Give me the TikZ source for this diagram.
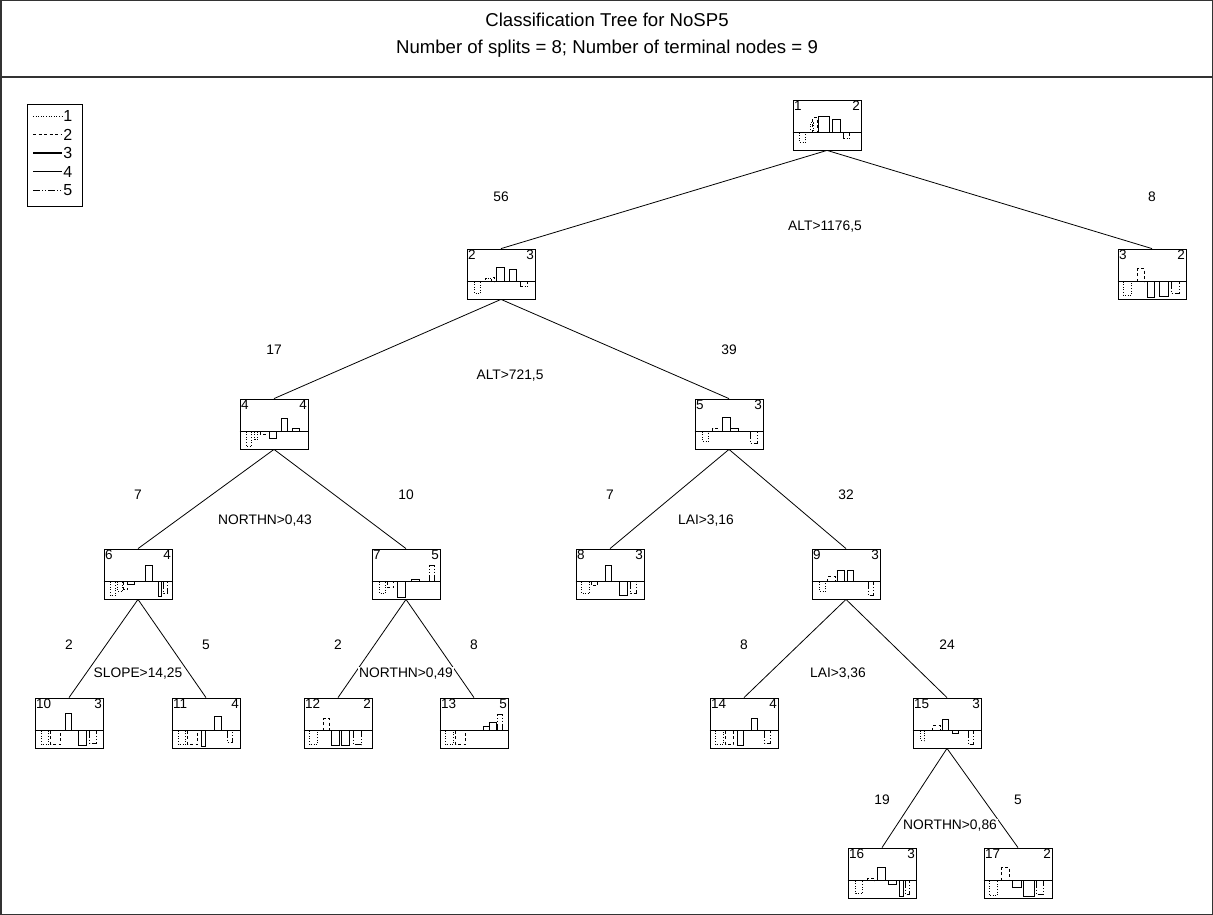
\documentclass[tikz,border=0pt]{standalone}
\usepackage{fontspec}
\setmainfont{Liberation Sans}
\usetikzlibrary{calc}

% one box of the tree: name, x, top, id, class, bars (style/x1/x2/height)
\newcommand{\treebox}[6]{%
	\node[tbox] (#1) at (#2,#3+25) {};
	\node[anchor=north west, numtext] (#1id) at (#1.north west) {#4};
	\node[anchor=north east, numtext] (#1cl) at (#1.north east) {#5};
	\draw ($(#1.north west)+(0,33)$) -- ($(#1.north east)+(0,33)$);
	\foreach \st/\xa/\xb/\h in {#6}
		\draw[\st] ($(#1.north west)+(\xa,33)$) -- ++(0,{-(\h)}) -| ($(#1.north west)+(\xb,33)$);
}

\begin{document}
\begin{tikzpicture}[x=1pt, y=-1pt, line width=0.8pt,
		tbox/.style={draw, minimum width=68pt, minimum height=50pt, inner sep=0pt},
		numtext/.style={inner sep=1.2pt, font=\fontsize{13.5}{15}\selectfont},
		cnt/.style={font=\fontsize{13.8}{16}\selectfont},
		split/.style={fill=white, inner sep=1pt, font=\fontsize{13.8}{16}\selectfont},
		c1/.style={dash pattern=on 1pt off 1.6pt},
		c2/.style={dash pattern=on 3pt off 2.5pt},
		c3/.style={line width=1.5pt},
		c4/.style={line width=0.9pt},
		c5/.style={dash pattern=on 7pt off 2pt on 1pt off 2pt on 1pt off 2pt}]
	\useasboundingbox (0,0) rectangle (1213,915);
	\draw[line width=1.5pt, black!80] (0.75,0.75) rectangle (1212.25,914.25);
	\draw[line width=2pt, black!80] (0,77) -- (1213,77);
	
	% title
	\node[font=\fontsize{18.6}{22}\selectfont] (title) at (607,20) {Classification Tree for NoSP5};
	\node[font=\fontsize{18.6}{22}\selectfont] (subtitle) at (607,49) {Number of splits = 8; Number of terminal nodes = 9};
	
	% legend
	\node[draw, minimum width=55pt, minimum height=102pt, inner sep=0pt] (legend) at (54.5,155) {};
	\foreach \i/\st in {1/c1, 2/c2, 3/c3, 4/c4, 5/c5}
	{
		\coordinate (la\i) at (33,97.5+18.5*\i);
		\coordinate (lb\i) at (62,97.5+18.5*\i);
		\draw[\st] (la\i) -- (lb\i);
		\node[anchor=west, inner sep=1pt, font=\fontsize{16}{18}\selectfont] (lt\i) at (lb\i) {\i};
	}
	
	% boxes
	\treebox{n1}{827}{100}{1}{2}{c1/7/13/-10, c1/18/21/10, c2/20/25/15, c3/26/37/16, c4/40/48/13, c5/51/57/-6}
	\treebox{n2}{501}{249}{2}{3}{c1/8/14/-12, c1/19/25/3, c2/25/28/4, c3/30/38/14, c4/43/50/12, c5/54/61/-5}
	\treebox{n3}{1152}{249}{3}{2}{c1/6/14/-14, c2/20/27/13, c3/30/37/-16, c4/42/51/-15, c5/54/62/-12}
	\treebox{n4}{274}{399}{4}{4}{c1/7/12/-15, c1/15/18/-8, c2/21/26/-3, c3/30/37/-7, c4/42/48/13, c4/53/60/3}
	\treebox{n5}{729}{399}{5}{3}{c1/8/14/-10, c2/18/24/3, c3/28/36/14, c4/36/44/3, c5/56/63/-12}
	\treebox{n6}{138}{549}{6}{4}{c1/7/12/-14, c1/14/19/-10, c2/20/24/-8, c3/24/31/-3, c4/42/49/16, c4/55/58/-15, c5/60/64/-12}
	\treebox{n7}{406}{549}{7}{5}{c1/8/14/-12, c2/16/22/-6, c3/26/34/-16, c4/40/48/2, c5/58/63/16}
	\treebox{n8}{610}{549}{8}{3}{c1/6/14/-12, c2/16/22/-4, c3/30/36/16, c4/44/52/-14, c5/55/61/-12}
	\treebox{n9}{846}{549}{9}{3}{c1/8/14/-10, c2/16/24/5, c3/26/33/11, c4/36/42/11, c5/57/62/-14}
	\treebox{n10}{69}{698}{10}{3}{c1/7/14/-14, c2/16/26/-14, c3/31/37/17, c4/44/52/-15, c5/55/62/-13}
	\treebox{n11}{206}{698}{11}{4}{c1/7/14/-14, c2/16/26/-14, c3/30/34/-16, c4/43/50/14, c5/56/61/-12}
	\treebox{n12}{338}{698}{12}{2}{c1/6/14/-14, c2/20/26/12, c3/28/36/-15, c4/38/46/-15, c5/50/58/-14}
	\treebox{n13}{474}{698}{13}{5}{c1/6/14/-14, c2/16/26/-14, c4/44/50/4, c3/50/57/8, c5/58/63/16}
	\treebox{n14}{744}{698}{14}{4}{c1/6/14/-14, c2/16/24/-14, c3/28/34/-15, c4/42/48/12, c5/55/61/-13}
	\treebox{n15}{947}{698}{15}{3}{c1/8/12/-10, c2/20/28/5, c3/30/36/11, c4/40/46/-3, c5/56/61/-14}
	\treebox{n16}{882}{848}{16}{3}{c1/8/15/-13, c2/20/27/2, c3/30/38/13, c4/41/49/-4, c4/52/56/-16, c5/58/62/-14}
	\treebox{n17}{1018}{848}{17}{2}{c1/6/14/-15, c2/18/26/13, c3/29/38/-7, c4/40/51/-16, c5/53/60/-14}
	
	% edges
	\foreach \a/\b in {n1/n2, n1/n3, n2/n4, n2/n5, n4/n6, n4/n7, n5/n8, n5/n9, n6/n10, n6/n11, n7/n12, n7/n13, n9/n14, n9/n15, n15/n16, n15/n17}
		\draw (\a.south) -- (\b.north);
	
	% counts
	\node[cnt] (k2) at (501,197) {56};
	\node[cnt] (k3) at (1152,197) {8};
	\node[cnt] (k4) at (274,350) {17};
	\node[cnt] (k5) at (729,350) {39};
	\node[cnt] (k6) at (138,495) {7};
	\node[cnt] (k7) at (406,495) {10};
	\node[cnt] (k8) at (610,495) {7};
	\node[cnt] (k9) at (846,495) {32};
	\node[cnt] (k10) at (69,645) {2};
	\node[cnt] (k11) at (206,645) {5};
	\node[cnt] (k12) at (338,645) {2};
	\node[cnt] (k13) at (474,645) {8};
	\node[cnt] (k14) at (744,645) {8};
	\node[cnt] (k15) at (947,645) {24};
	\node[cnt] (k16) at (882,800) {19};
	\node[cnt] (k17) at (1018,800) {5};
	
	% splits
	\node[split] (s1) at (825,227) {ALT>1176,5};
	\node[split] (s2) at (510,376) {ALT>721,5};
	\node[split] (s4) at (265,521) {NORTHN>0,43};
	\node[split] (s5) at (706,521) {LAI>3,16};
	\node[split] (s6) at (138,674) {SLOPE>14,25};
	\node[split] (s7) at (406,674) {NORTHN>0,49};
	\node[split] (s9) at (838,674) {LAI>3,36};
	\node[split] (s15) at (950,826) {NORTHN>0,86};
\end{tikzpicture}
\end{document}
